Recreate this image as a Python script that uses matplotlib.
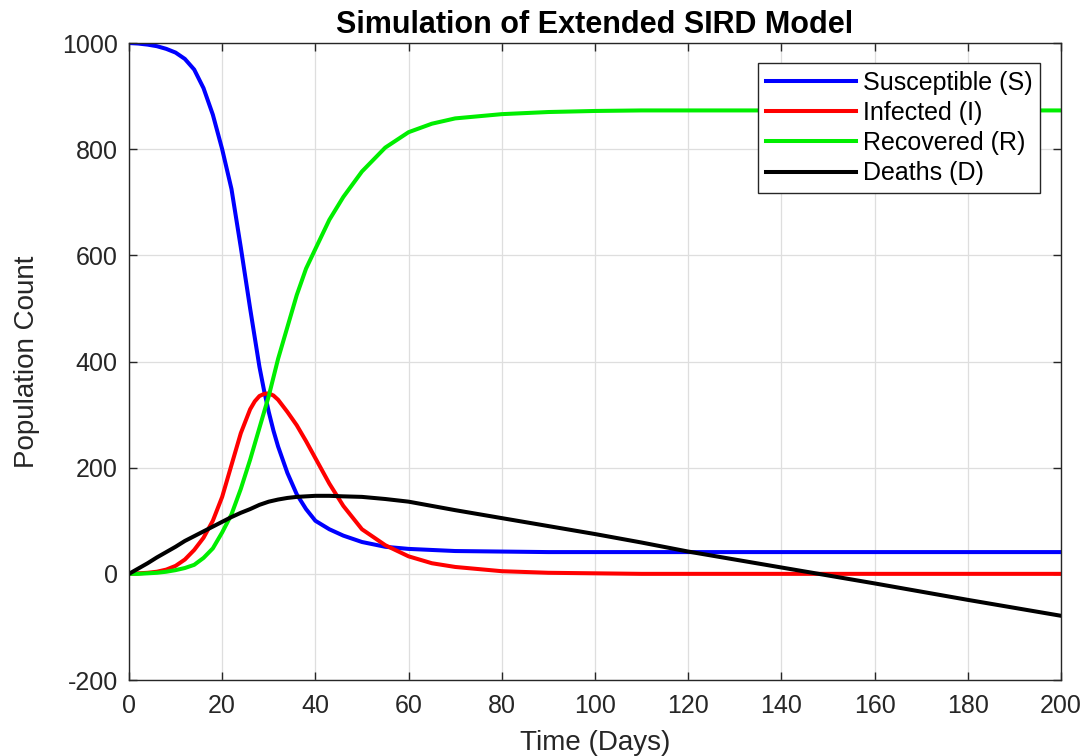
import matplotlib
matplotlib.use("Agg")
import matplotlib.pyplot as plt

plt.rcParams['font.family'] = ['Liberation Sans', 'DejaVu Sans']
plt.rcParams['axes.unicode_minus'] = False

days = [0, 2, 4, 6, 8, 10, 12, 14, 16, 18, 20, 22, 24, 26, 27, 28, 29, 30, 31, 32, 34, 36,
        38, 40, 43, 46, 50, 55, 60, 65, 70, 80, 90, 100, 110, 120, 130, 140, 148, 160, 180, 200]
susceptible = [1000, 999, 997, 994, 989, 982, 970, 950, 915, 865, 800, 725, 615, 500, 445,
               390, 345, 305, 270, 240, 190, 150, 122, 100, 84, 72, 60, 51, 47, 45, 43, 42,
               41, 41, 41, 41, 41, 41, 41, 41, 41, 41]
infected = [0, 1, 2, 4, 8, 15, 27, 45, 68, 100, 145, 205, 265, 310, 325, 335, 339, 340, 336,
            328, 305, 280, 250, 218, 170, 128, 84, 54, 33, 20, 13, 5, 2, 1, 0, 0, 0, 0, 0,
            0, 0, 0]
recovered = [0, 0, 1, 2, 4, 7, 11, 17, 30, 48, 78, 112, 160, 215, 245, 275, 305, 335, 370,
             405, 465, 525, 575, 612, 667, 710, 758, 803, 832, 848, 858, 866, 870, 872, 873,
             873, 873, 873, 873, 873, 873, 873]
deaths = [0, 10, 20, 31, 41, 51, 62, 71, 80, 89, 98, 107, 115, 122, 126, 130, 133, 136, 138,
          140, 143, 145, 146, 147, 147, 146, 145, 141, 136, 128, 120, 105, 90, 75, 59, 42,
          27, 12, 0, -18, -49, -79]

series_labels = ['Susceptible (S)', 'Infected (I)', 'Recovered (R)', 'Deaths (D)']
series_colors = ['#0000ff', '#ff0000', '#00ee00', '#000000']
xticks = list(range(0, 201, 20))
yticks = list(range(-200, 1001, 200))

fig = plt.figure(figsize=(10.91, 7.56), dpi=100)
ax = fig.add_axes([0.1182, 0.1005, 0.8543, 0.8426])

for data, lab, col in zip([susceptible, infected, recovered, deaths], series_labels, series_colors):
    ax.plot(days, data, color=col, lw=2.9, label=lab, solid_joinstyle='round')

ax.set_xlim(0, 200)
ax.set_ylim(-200, 1000)
ax.set_xticks(xticks)
ax.set_yticks(yticks)
ax.grid(True, color='#dedede', lw=0.9)
ax.set_axisbelow(True)
ax.tick_params(direction='in', top=True, right=True, labelsize=18, colors='#262626',
               length=6, width=1)
ax.tick_params(axis='x', pad=10)
ax.tick_params(axis='y', pad=8)
for sp in ax.spines.values():
    sp.set_color('#262626')
    sp.set_linewidth(1.0)

ax.set_title('Simulation of Extended SIRD Model', fontsize=22, fontweight='bold', pad=7.5)
ax.set_xlabel('Time (Days)', fontsize=20, color='#262626', labelpad=9)
ax.set_ylabel('Population Count', fontsize=20, color='#262626', labelpad=16)

leg = ax.legend(loc='upper right', bbox_to_anchor=(0.9775, 0.9686), fontsize=18, frameon=True,
                fancybox=False, edgecolor='#262626', framealpha=1, handlelength=3.6,
                handletextpad=0.28, borderpad=0.3, labelspacing=0.25, borderaxespad=0)
leg.get_frame().set_linewidth(1.0)

fig.savefig('out.png', dpi=100)
